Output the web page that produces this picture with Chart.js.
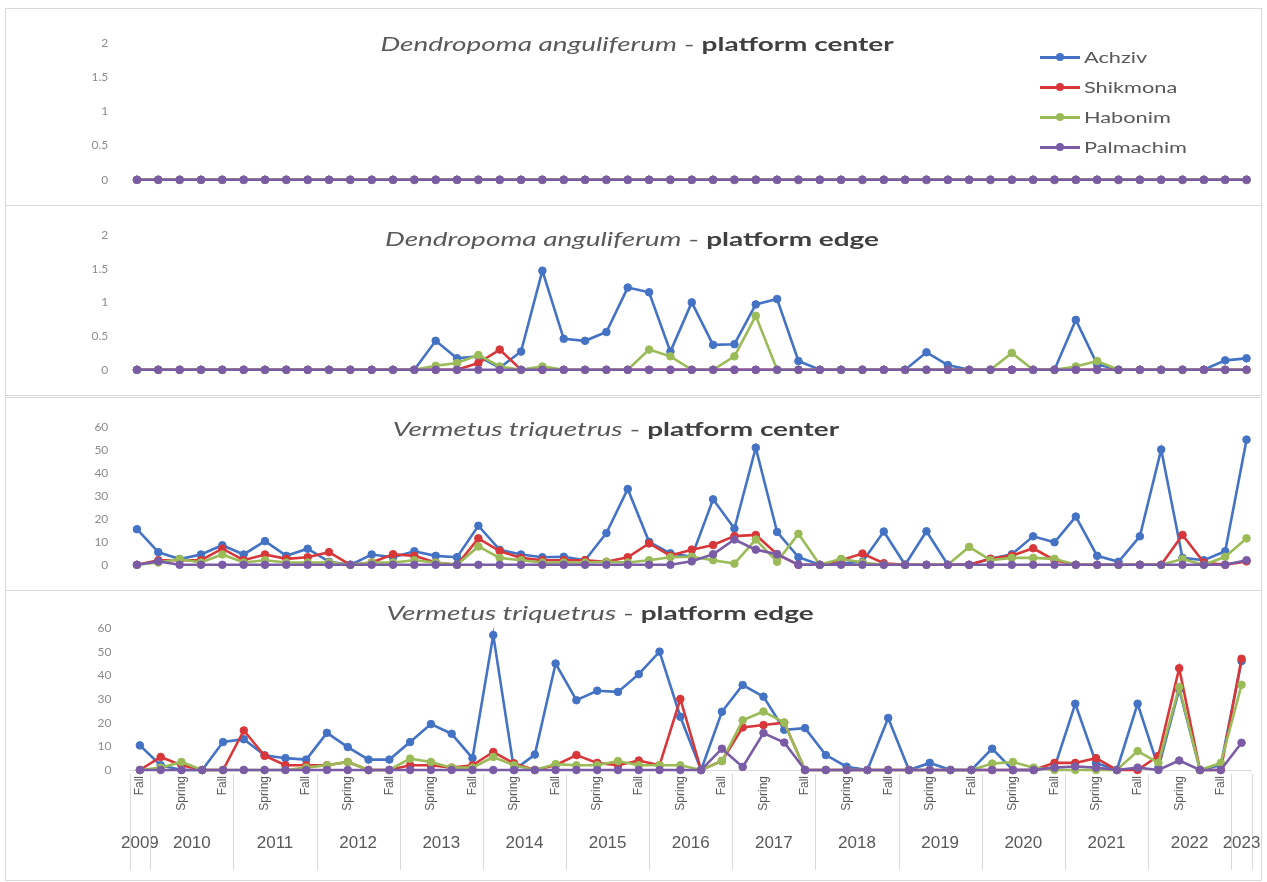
<!DOCTYPE html>
<html>
<head>
<meta charset="utf-8">
<script src="https://cdn.jsdelivr.net/npm/chart.js@4.4.1/dist/chart.umd.min.js"></script>
<style>
  body { margin: 0; width: 1267px; height: 882px; background: #fff; position: relative; overflow: hidden; font-family: Lato, "Open Sans", sans-serif; }
  canvas { position: absolute; left: 5px; }
  .frame { position: absolute; left: 5px; width: 1257px; border: 1px solid #d9d9d9; box-sizing: border-box; pointer-events: none; }
  .ttl { position: absolute; transform: translateX(-50%) scaleX(1.47); white-space: nowrap; font-size: 19px; color: #595959; line-height: 1; }
  .ttl b { color: #404040; }
  #legend { position: absolute; left: 1040px; top: 42px; font-size: 15px; color: #595959; }
  #legend div { height: 30px; display: flex; align-items: center; }
  #legend .sw { position: relative; width: 40px; height: 3px; margin-right: 4px; }
  #legend .sw::after { content: ""; position: absolute; left: 16px; top: -2.5px; width: 8px; height: 8px; border-radius: 50%; background: inherit; }
  #legend .nm { display: inline-block; transform: scaleX(1.45); transform-origin: left center; }
</style>
</head>
<body>
<div class="frame" style="top:8px;height:198px"></div>
<div class="frame" style="top:205px;height:191px"></div>
<div class="frame" style="top:397px;height:194px"></div>
<div class="frame" style="top:590px;height:291px"></div>
<canvas id="c1" width="1257" height="197" style="top:8px"></canvas>
<canvas id="c2" width="1257" height="190" style="top:205px"></canvas>
<canvas id="c3" width="1257" height="192" style="top:398px"></canvas>
<canvas id="c4" width="1257" height="290" style="top:590px"></canvas>
<div class="ttl" style="left:637px;top:34px"><i>Dendropoma anguliferum</i> - <b>platform center</b></div>
<div class="ttl" style="left:632px;top:229px"><i>Dendropoma anguliferum</i> - <b>platform edge</b></div>
<div class="ttl" style="left:616px;top:419px"><i>Vermetus triquetrus</i> - <b>platform center</b></div>
<div class="ttl" style="left:600px;top:603px"><i>Vermetus triquetrus</i> - <b>platform edge</b></div>
<div id="legend"></div>
<script>
// sampling seasons (bottom axis), Fall 2009 .. Winter 2023
const seasons = ['Fall',
  'Winter', 'Spring', 'Summer', 'Fall', 'Winter', 'Spring', 'Summer', 'Fall',
  'Winter', 'Spring', 'Summer', 'Fall', 'Winter', 'Spring', 'Summer', 'Fall',
  'Winter', 'Spring', 'Summer', 'Fall', 'Winter', 'Spring', 'Summer', 'Fall',
  'Winter', 'Spring', 'Summer', 'Fall', 'Winter', 'Spring', 'Summer', 'Fall',
  'Winter', 'Spring', 'Summer', 'Fall', 'Winter', 'Spring', 'Summer', 'Fall',
  'Winter', 'Spring', 'Summer', 'Fall', 'Winter', 'Spring', 'Summer', 'Fall',
  'Winter', 'Spring', 'Summer', 'Fall',
  'Winter'];
const years = [2009,
  2010, 2010, 2010, 2010, 2011, 2011, 2011, 2011,
  2012, 2012, 2012, 2012, 2013, 2013, 2013, 2013,
  2014, 2014, 2014, 2014, 2015, 2015, 2015, 2015,
  2016, 2016, 2016, 2016, 2017, 2017, 2017, 2017,
  2018, 2018, 2018, 2018, 2019, 2019, 2019, 2019,
  2020, 2020, 2020, 2020, 2021, 2021, 2021, 2021,
  2022, 2022, 2022, 2022,
  2023];
// the three upper charts have 53 surveys
const upperSurveys = seasons.slice(0, 53);

const sites = ['Achziv', 'Shikmona', 'Habonim', 'Palmachim'];
const siteColors = ['#4472c4', '#d8373a', '#9bbb59', '#7a5ca6'];

// Dendropoma anguliferum - platform center
const dcAchziv    = [0,0,0,0,0,0,0,0,0,0, 0,0,0,0,0,0,0,0,0,0, 0,0,0,0,0,0,0,0,0,0, 0,0,0,0,0,0,0,0,0,0, 0,0,0,0,0,0,0,0,0,0, 0,0,0];
const dcShikmona  = [0,0,0,0,0,0,0,0,0,0, 0,0,0,0,0,0,0,0,0,0, 0,0,0,0,0,0,0,0,0,0, 0,0,0,0,0,0,0,0,0,0, 0,0,0,0,0,0,0,0,0,0, 0,0,0];
const dcHabonim   = [0,0,0,0,0,0,0,0,0,0, 0,0,0,0,0,0,0,0,0,0, 0,0,0,0,0,0,0,0,0,0, 0,0,0,0,0,0,0,0,0,0, 0,0,0,0,0,0,0,0,0,0, 0,0,0];
const dcPalmachim = [0,0,0,0,0,0,0,0,0,0, 0,0,0,0,0,0,0,0,0,0, 0,0,0,0,0,0,0,0,0,0, 0,0,0,0,0,0,0,0,0,0, 0,0,0,0,0,0,0,0,0,0, 0,0,0];

// Dendropoma anguliferum - platform edge
const deAchziv    = [0,0,0,0,0,0,0,0,0,0, 0,0,0,0,0.43,0.17,0.2,0.03,0.27,1.47, 0.46,0.43,0.56,1.22,1.15,0.27,1.0,0.37,0.38,0.97, 1.05,0.13,0,0,0,0,0,0.26,0.07,0, 0,0,0,0,0.74,0.08,0,0,0,0, 0,0.14,0.17];
const deShikmona  = [0,0,0,0,0,0,0,0,0,0, 0,0,0,0,0,0,0.1,0.3,0,0, 0,0,0,0,0,0,0,0,0,0, 0,0,0,0,0,0,0,0,0,0, 0,0,0,0,0,0,0,0,0,0, 0,0,0];
const deHabonim   = [0,0,0,0,0,0,0,0,0,0, 0,0,0,0,0.06,0.1,0.22,0.05,0,0.05, 0,0,0,0,0.3,0.2,0,0,0.2,0.8, 0,0,0,0,0,0,0,0,0,0, 0,0.25,0,0,0.05,0.13,0,0,0,0, 0,0,0];
const dePalmachim = [0,0,0,0,0,0,0,0,0,0, 0,0,0,0,0,0,0,0,0,0, 0,0,0,0,0,0,0,0,0,0, 0,0,0,0,0,0,0,0,0,0, 0,0,0,0,0,0,0,0,0,0, 0,0,0];

// Vermetus triquetrus - platform center
const vcAchziv    = [15.5,5.5,2.5,4.5,8.5,4.5,10.3,3.9,7,1.3, 0,4.5,3.3,5.9,3.9,3.3,17,6.5,4.5,3.3, 3.5,2,13.8,33,10,5,3.5,28.5,15.8,51, 14.3,3.3,0,0.7,1.3,14.5,0,14.6,0,0, 2.6,4.6,12.4,9.8,21,3.9,1.3,12.4,50.2,3, 2,5.9,54.5];
const vcShikmona  = [0,2,2,2,7,2,4.5,2.6,3.3,5.5, 0,1,4.6,3.9,1,0,11.5,6,3,2, 2,2,1.3,3.3,9.3,4,6.6,8.6,12.5,13, 4.6,0,0,2,4.9,0.7,0,0,0,0, 2.6,4,7.2,2,0,0,0,0,0,13, 1,0,1.5];
const vcHabonim   = [0,1,2.5,1,4.5,1,2,1,1,1, 0,1,1,2,1,0,8,3,2,1, 1,1,1.3,1,2,3.3,3.5,2,0.5,11, 1.3,13.5,0,2.6,1,0,0,0,0,7.8, 2,3,3,2.6,0,0,0,0,0,2.5, 0,3.5,11.5];
const vcPalmachim = [0,1.5,0,0,0,0,0,0,0,0, 0,0,0,0,0,0,0,0,0,0, 0,0,0,0,0,0,1.5,4.6,11,6.6, 4.6,0,0,0,0,0,0,0,0,0, 0,0,0,0,0,0,0,0,0,0, 0,0,2];

// Vermetus triquetrus - platform edge
const veAchziv    = [10.4,2,0,0,11.8,13,6.2,5,4.4,15.7, 9.7,4.4,4.4,11.8,19.4,15.3,5,57,0,6.5, 45,29.5,33.5,33,40.5,50,22.5,0,24.6,35.9, 31,17,17.7,6.3,1.4,0,22,0,3,0, 0,9,0,0,1,28,3,0,28,1, 34,0,2,46];
const veShikmona  = [0,5.5,2,0,0,16.7,6,2,2,2, 3.4,0,0,2,2,1,2,7.6,2.8,0, 2,6.3,3,2,4,2,30,0,3.8,18, 19,20,0,0,0,0,0,0,0,0, 0,0,0,0,3,3,5,0,0,6, 43,0,0,47];
const veHabonim   = [0,1,3.4,0,0,0,0,0,1,2, 3.4,0,0,4.8,3.4,1,1,5.5,2,0, 2.5,2,2,3.8,2,2,2,0,3.8,21, 24.7,20,0,0,0,0,0,0,0,0, 0,2.7,3.4,1,0,0,0,0,8,3, 35,0,3,36];
const vePalmachim = [0,0,0,0,0,0,0,0,0,0, 0,0,0,0,0,0,0,0,0,0, 0,0,0,0,0,0,0,0,9,1.3, 15.6,11.6,0,0,0,0,0,0,0,0, 0,0,0,0,1,1.5,1,0,1,0, 4,0,0,11.5];

const tickGray = '#8c8c8c';

// year groups + separators under the bottom axis
const yearGroups = {
  id: 'yearGroups',
  afterDraw(chart) {
    const { ctx, chartArea, scales: { x } } = chart;
    const half = (x.getPixelForValue(1) - x.getPixelForValue(0)) / 2;
    const lineTop = chartArea.bottom + 4, lineBottom = chart.height - 10;
    ctx.save();
    ctx.strokeStyle = '#d9d9d9';
    ctx.lineWidth = 1;
    ctx.fillStyle = '#595959';
    ctx.font = '17px "Liberation Sans", Arial, sans-serif';
    ctx.textAlign = 'center';
    ctx.textBaseline = 'middle';
    let start = 0;
    for (let i = 1; i <= years.length; i++) {
      if (i < years.length && years[i] === years[start]) continue;
      const left = x.getPixelForValue(start) - half;
      const right = x.getPixelForValue(i - 1) + half;
      ctx.beginPath();
      ctx.moveTo(Math.round(left) + 0.5, lineTop);
      ctx.lineTo(Math.round(left) + 0.5, lineBottom);
      if (i === years.length) {
        ctx.moveTo(Math.round(right) + 0.5, lineTop);
        ctx.lineTo(Math.round(right) + 0.5, lineBottom);
      }
      ctx.stroke();
      ctx.fillText(String(years[start]), (left + right) / 2, chartArea.bottom + 73);
      start = i;
    }
    ctx.restore();
  }
};

function makeChart(id, labels, series, yMax, step, box) {
  const datasets = series.map((vals, k) => ({
    label: sites[k],
    data: vals,
    borderColor: siteColors[k],
    backgroundColor: siteColors[k],
    borderWidth: 2.6,
    pointRadius: 3.8,
    pointHoverRadius: 3.8,
    pointBorderWidth: 1,
    tension: 0,
    clip: false,
    order: 4 - k
  }));
  return new Chart(document.getElementById(id), {
    type: 'line',
    data: { labels, datasets },
    options: {
      responsive: false,
      animation: false,
      events: [],
      layout: { padding: { left: 0, right: box.right, top: box.top, bottom: box.bottom } },
      plugins: { legend: { display: false }, tooltip: { enabled: false } },
      scales: {
        x: {
          type: 'category',
          offset: true,
          display: !!box.axisHeight,
          grid: { display: false, drawTicks: false },
          border: { display: true, color: '#d9d9d9', width: 1 },
          ticks: {
            autoSkip: false,
            minRotation: 90,
            maxRotation: 90,
            padding: 6,
            color: '#595959',
            font: { family: '"Liberation Sans", Arial, sans-serif', size: 12 },
            callback: (v, i) => (i % 2 === 0 ? labels[i] : '')
          },
          afterFit: s => { if (box.axisHeight) s.height = box.axisHeight; }
        },
        y: {
          min: 0,
          max: yMax,
          ticks: {
            stepSize: step,
            color: tickGray,
            padding: 18,
            font: { family: 'Lato, sans-serif', size: 12 },
            callback: v => String(v)
          },
          grid: { display: false, drawTicks: false },
          border: { display: false },
          afterFit: s => { s.width = box.yWidth; }
        }
      }
    },
    plugins: box.axisHeight ? [yearGroups] : []
  });
}

makeChart('c1', upperSurveys, [dcAchziv, dcShikmona, dcHabonim, dcPalmachim], 2, 0.5,
  { yWidth: 121.3, right: 3.3, top: 35, bottom: 12 });
makeChart('c2', upperSurveys, [deAchziv, deShikmona, deHabonim, dePalmachim], 2, 0.5,
  { yWidth: 121.3, right: 3.3, top: 30, bottom: 8 });
makeChart('c3', upperSurveys, [vcAchziv, vcShikmona, vcHabonim, vcPalmachim], 60, 10,
  { yWidth: 121.3, right: 3.3, top: 29, bottom: 12 });
makeChart('c4', seasons, [veAchziv, veShikmona, veHabonim, vePalmachim], 60, 10,
  { yWidth: 124.5, right: 3.5, top: 38, bottom: 0, axisHeight: 110 });

// legend of the first chart
const legend = document.getElementById('legend');
sites.forEach((name, k) => {
  const row = document.createElement('div');
  const sw = document.createElement('span');
  sw.className = 'sw';
  sw.style.background = siteColors[k];
  const nm = document.createElement('span');
  nm.className = 'nm';
  nm.textContent = name;
  row.appendChild(sw);
  row.appendChild(nm);
  legend.appendChild(row);
});
</script>
</body>
</html>
